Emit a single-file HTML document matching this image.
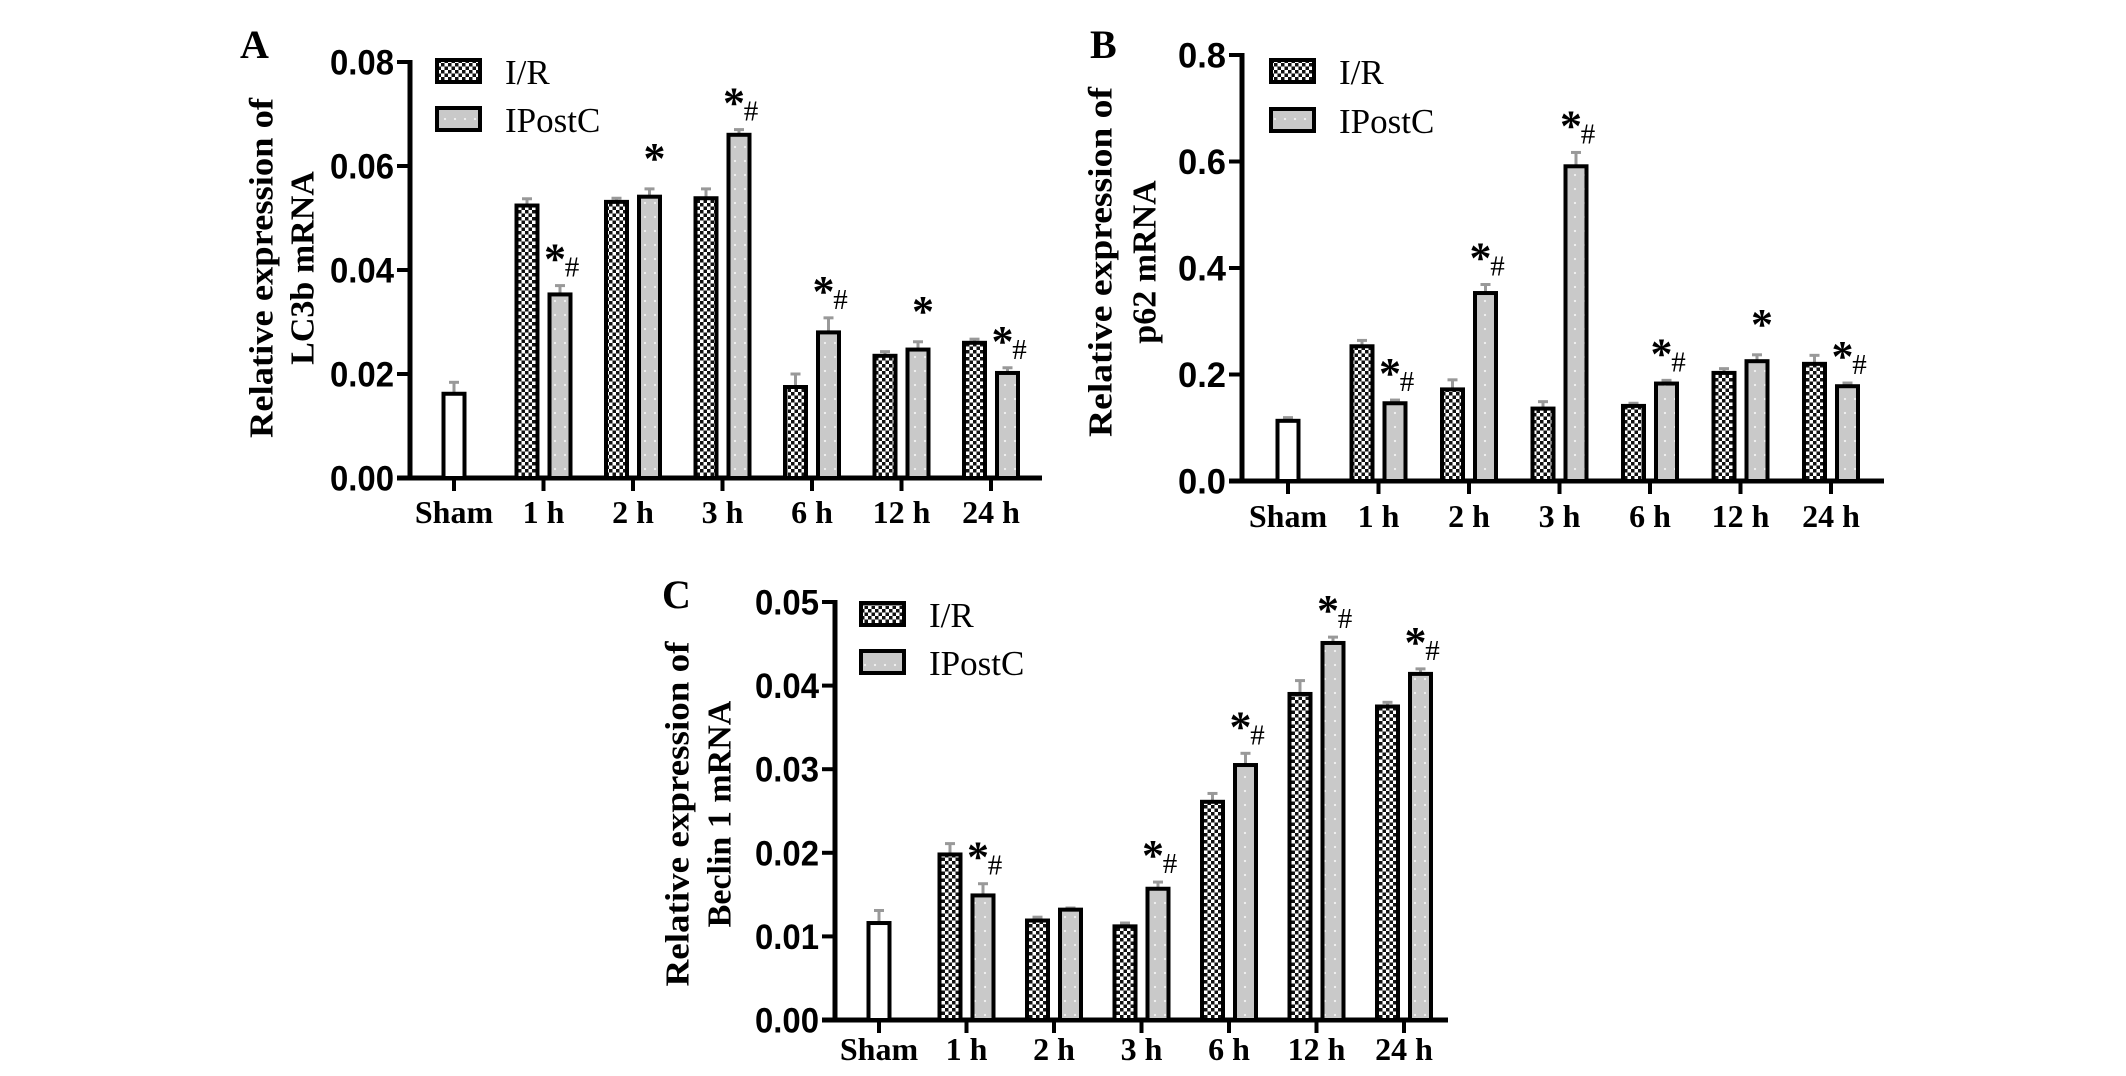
<!DOCTYPE html>
<html><head><meta charset="utf-8">
<style>
html,body{margin:0;padding:0;background:#fff;}
svg{display:block;}
</style></head>
<body>
<svg id="fig" width="2126" height="1076" viewBox="0 0 2126 1076" xmlns="http://www.w3.org/2000/svg">
<defs>
<pattern id="checker" patternUnits="userSpaceOnUse" width="7" height="7">
<rect width="7" height="7" fill="#fff"/>
<rect width="3.5" height="3.5" fill="#111"/>
<rect x="3.5" y="3.5" width="3.5" height="3.5" fill="#111"/>
</pattern>
<pattern id="dots" patternUnits="userSpaceOnUse" width="10" height="14">
<rect width="10" height="14" fill="#c9c9c9"/>
<circle cx="5" cy="7" r="1.1" fill="#f2f2f2"/>
</pattern>
</defs>
</svg>
<script>
const categories = ["Sham","1 h","2 h","3 h","6 h","12 h","24 h"];

const lc3bSham = 0.0162, lc3bShamErr = 0.0022;
const lc3bIR = [0.0524,0.0531,0.0538,0.0175,0.0235,0.0260];
const lc3bIRErr = [0.0013,0.0007,0.0018,0.0025,0.0008,0.0007];
const lc3bIP = [0.0353,0.0541,0.0660,0.0280,0.0247,0.0202];
const lc3bIPErr = [0.0017,0.0015,0.0010,0.0028,0.0015,0.0010];
const lc3bMarks = ["*#","*","*#","*#","*","*#"];
const lc3bTicks = ["0.00","0.02","0.04","0.06","0.08"];

const p62Sham = 0.113, p62ShamErr = 0.006;
const p62IR = [0.253,0.172,0.136,0.141,0.203,0.220];
const p62IRErr = [0.011,0.018,0.013,0.005,0.008,0.016];
const p62IP = [0.146,0.353,0.591,0.183,0.225,0.178];
const p62IPErr = [0.006,0.016,0.026,0.006,0.012,0.006];
const p62Marks = ["*#","*#","*#","*#","*","*#"];
const p62Ticks = ["0.0","0.2","0.4","0.6","0.8"];

const becSham = 0.0116, becShamErr = 0.0015;
const becIR = [0.0198,0.0119,0.0112,0.0261,0.0390,0.0375];
const becIRErr = [0.0013,0.0004,0.0004,0.0010,0.0016,0.0005];
const becIP = [0.0149,0.0132,0.0157,0.0305,0.0451,0.0414];
const becIPErr = [0.0014,0.0002,0.0008,0.0014,0.0007,0.0006];
const becMarks = ["*#","","*#","*#","*#","*#"];
const becTicks = ["0.00","0.01","0.02","0.03","0.04","0.05"];

const NS = "http://www.w3.org/2000/svg";
const svg = document.getElementById('fig');
function mk(tag, attrs, parent){
  const e = document.createElementNS(NS, tag);
  for (const k in attrs) e.setAttribute(k, attrs[k]);
  (parent||svg).appendChild(e);
  return e;
}

function panel(cfg){
  const g = mk('g', {});
  
  
  const yMax = parseFloat(cfg.ticks[cfg.ticks.length-1]);
  const yScale = v => cfg.y0 - (v / yMax) * (cfg.y0 - cfg.yTop);
  const xScale = i => cfg.tick0 + i * cfg.step;

  const L = mk('text', {x: cfg.letterX, y: cfg.letterY, 'font-family': '"Liberation Serif", serif', 'font-weight': 'bold', 'font-size': 40, fill: '#000'}, g);
  L.textContent = cfg.letter;
  
  

  const tg = mk('g', {}, g);
  
  
  cfg.title.forEach((line, k) => {
    const cx = cfg.titleX[k];
    const t = mk('text', {x: cx, y: cfg.titleY, transform: `rotate(-90 ${cx} ${cfg.titleY})`, 'text-anchor': 'middle', 'dominant-baseline': 'central', 'font-family': '"Liberation Serif", serif', 'font-weight': 'bold', 'font-size': 34, fill: '#000'}, tg);
    if (k === 0) { t.setAttribute('textLength', cfg.titleLen); t.setAttribute('lengthAdjust', 'spacingAndGlyphs'); }
    t.textContent = line;
  });

  const ya = mk('line', {x1: cfg.x0, y1: cfg.yTop - 2, x2: cfg.x0, y2: cfg.y0 + 2, stroke: '#000', 'stroke-width': 5}, g);
  
  
  cfg.ticks.forEach(lbl => {
    const y = yScale(parseFloat(lbl));
    mk('line', {x1: cfg.x0 - 13, y1: y, x2: cfg.x0, y2: y, stroke: '#000', 'stroke-width': 4}, g);
    const t = mk('text', {x: cfg.x0 - 16, y: y + 1, 'text-anchor': 'end', 'dominant-baseline': 'central', 'font-family': '"Liberation Sans", sans-serif', 'font-weight': 'bold', 'font-size': 35, fill: '#000', textLength: lbl.length * 16, lengthAdjust: 'spacingAndGlyphs'}, g);
    t.textContent = lbl;
    
    
  });

  const xa = mk('line', {x1: cfg.x0 - 13, y1: cfg.y0, x2: cfg.xEnd, y2: cfg.y0, stroke: '#000', 'stroke-width': 5}, g);
  
  
  categories.forEach((c, i) => {
    const x = xScale(i);
    mk('line', {x1: x, y1: cfg.y0, x2: x, y2: cfg.y0 + 13, stroke: '#000', 'stroke-width': 4}, g);
    const t = mk('text', {x: x, y: cfg.y0 + cfg.labelDy, 'text-anchor': 'middle', 'font-family': '"Liberation Serif", serif', 'font-weight': 'bold', 'font-size': 32, fill: '#000'}, g);
    t.textContent = c;
    
    
  });

  const bw = 21, off = 16.5;
  function bar(cx, v, err, fill, nm){
    const yt = yScale(v), ye = yScale(v + err);
    mk('line', {x1: cx, y1: yt, x2: cx, y2: ye, stroke: '#999', 'stroke-width': 3}, g);
    mk('line', {x1: cx - 5, y1: ye, x2: cx + 5, y2: ye, stroke: '#999', 'stroke-width': 3}, g);
    const r = mk('rect', {x: cx - bw/2, y: yt, width: bw, height: cfg.y0 - yt, fill: fill, stroke: '#000', 'stroke-width': 4}, g);
    
    
    return ye;
  }
  bar(xScale(0), cfg.sham, cfg.shamErr, '#fff', 'bar-sham');
  cfg.ir.forEach((v, i) => { bar(xScale(i+1) - off, v, cfg.irErr[i], 'url(#checker)', 'bar-ir'); });
  cfg.ip.forEach((v, i) => {
    const cx = xScale(i+1) + off;
    const ye = bar(cx, v, cfg.ipErr[i], 'url(#dots)', 'bar-ipostc');
    const m = cfg.marks[i];
    if (m === '*#') {
      const s = mk('text', {x: cx - 5, y: ye - 12, 'text-anchor': 'middle', 'font-family': '"Liberation Serif", serif', 'font-weight': 'bold', 'font-size': 44, fill: '#000'}, g);
      s.textContent = '*';
      
      
      const h = mk('text', {x: cx + 12, y: ye - 9, 'text-anchor': 'middle', 'font-family': '"Liberation Serif", serif', 'font-size': 29, fill: '#000'}, g);
      h.textContent = '#';
      
      
    } else if (m === '*') {
      const s = mk('text', {x: cx + 5, y: ye - 16, 'text-anchor': 'middle', 'font-family': '"Liberation Serif", serif', 'font-weight': 'bold', 'font-size': 44, fill: '#000'}, g);
      s.textContent = '*';
      
      
    }
  });

  const lg = mk('g', {}, g);
  
  
  [['I/R','url(#checker)',cfg.legY[0]],['IPostC','url(#dots)',cfg.legY[1]]].forEach(([lab, f, y]) => {
    mk('rect', {x: cfg.legX + 2, y: y + 2, width: 43, height: 22, fill: f, stroke: '#000', 'stroke-width': 4}, lg);
    const t = mk('text', {x: cfg.legX + 70, y: y + 26, 'font-family': '"Liberation Serif", serif', 'font-size': 35, fill: '#000'}, lg);
    t.textContent = lab;
    
    
  });
}

panel({name:'chart-lc3b', letter:'A', letterX:240, letterY:58, title:['Relative expression of','LC3b mRNA'], titleX:[262,303], titleY:268, titleLen:340,
  x0:410, y0:478, yTop:62, tick0:454, step:89.5, xEnd:1042, labelDy:45, ticks:lc3bTicks,
  sham:lc3bSham, shamErr:lc3bShamErr, ir:lc3bIR, irErr:lc3bIRErr, ip:lc3bIP, ipErr:lc3bIPErr, marks:lc3bMarks,
  legX:435, legY:[58,106]});
panel({name:'chart-p62', letter:'B', letterX:1090, letterY:58, title:['Relative expression of','p62 mRNA'], titleX:[1101,1145], titleY:262, titleLen:350,
  x0:1242, y0:481, yTop:55, tick0:1288, step:90.5, xEnd:1884, labelDy:46, ticks:p62Ticks,
  sham:p62Sham, shamErr:p62ShamErr, ir:p62IR, irErr:p62IRErr, ip:p62IP, ipErr:p62IPErr, marks:p62Marks,
  legX:1269, legY:[58,107]});
panel({name:'chart-beclin1', letter:'C', letterX:662, letterY:608, title:['Relative expression of','Beclin 1 mRNA'], titleX:[678,720], titleY:814, titleLen:345,
  x0:835, y0:1020, yTop:602, tick0:879, step:87.5, xEnd:1448, labelDy:40, ticks:becTicks,
  sham:becSham, shamErr:becShamErr, ir:becIR, irErr:becIRErr, ip:becIP, ipErr:becIPErr, marks:becMarks,
  legX:859, legY:[601,649]});
</script>
</body></html>
